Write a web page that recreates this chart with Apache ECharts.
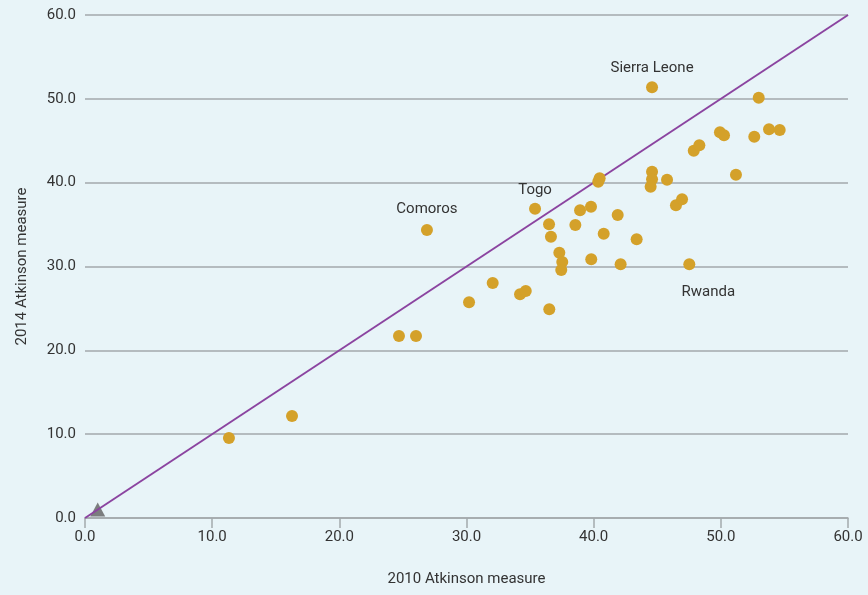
<!DOCTYPE html>
<html>
<head>
<meta charset="utf-8">
<script src="https://cdn.jsdelivr.net/npm/echarts@6/dist/echarts.min.js"></script>
<style>
html,body{margin:0;padding:0;background:#e8f4f8;}
#c{width:868px;height:595px;}
</style>
</head>
<body>
<div id="c"></div>
<script>
const xTicks = [0, 10, 20, 30, 40, 50, 60];
const yTicks = [0, 10, 20, 30, 40, 50, 60];
const x2010 = [11.32, 16.28, 24.69, 26.03, 26.89, 30.2, 32.06, 34.21, 34.66, 36.51, 35.39, 36.49, 36.64, 37.3, 37.53, 37.45, 38.56, 38.93, 39.79, 39.81, 40.36, 40.47, 40.79, 41.89, 42.12, 43.38, 44.59, 44.59, 44.59, 44.48, 45.77, 46.47, 46.95, 47.52, 47.87, 48.31, 49.93, 50.25, 51.19, 52.63, 52.98, 53.79, 54.63];
const y2014 = [9.54, 12.17, 21.71, 21.71, 34.35, 25.73, 28.03, 26.68, 27.08, 24.89, 36.89, 35.03, 33.55, 31.65, 30.54, 29.58, 34.95, 36.7, 37.13, 30.86, 40.12, 40.52, 33.91, 36.14, 30.26, 33.24, 51.38, 41.31, 40.4, 39.52, 40.35, 37.3, 38.02, 30.26, 43.81, 44.46, 46.01, 45.65, 40.95, 45.48, 50.14, 46.37, 46.28];
const pointNames = ["", "", "", "", "Comoros", "", "", "", "", "", "Togo", "", "", "", "", "", "", "", "", "", "", "", "", "", "", "", "Sierra Leone", "", "", "", "", "", "", "Rwanda", "", "", "", "", "", "", "", "", ""];
const refX = [0, 60];
const refY = [0, 60];
const triangleX = [1.0];
const triangleY = [1.0];

const FONT = '"Roboto", sans-serif';
const labelPos = {
  "Comoros": {position: 'top', offset: [0, -2]},
  "Togo": {position: 'top', offset: [0, 0]},
  "Sierra Leone": {position: 'top', offset: [0, -1]},
  "Rwanda": {position: 'bottom', offset: [19, 9]}
};
const pts = x2010.map((x, i) => {
  const item = {value: [x, y2014[i]], name: pointNames[i]};
  if (pointNames[i]) {
    item.label = Object.assign({show: true, formatter: '{b}', color: '#333', fontSize: 15, fontFamily: FONT}, labelPos[pointNames[i]]);
  }
  return item;
});

const chart = echarts.init(document.getElementById('c'));
chart.setOption({
  backgroundColor: '#e8f4f8',
  animation: false,
  grid: {left: 85, right: 20, top: 15, bottom: 77, containLabel: false},
  xAxis: {
    type: 'value', min: xTicks[0], max: xTicks[xTicks.length - 1], interval: 10,
    name: '2010 Atkinson measure', nameLocation: 'middle', nameGap: 54,
    nameTextStyle: {color: '#333', fontSize: 15, fontFamily: FONT},
    axisLine: {show: true, lineStyle: {color: '#a3a9ac', width: 1.5}},
    axisTick: {show: true, length: 10, lineStyle: {color: '#a3a9ac', width: 1.5}},
    axisLabel: {color: '#333', fontSize: 15, fontFamily: FONT, margin: 12, formatter: v => v.toFixed(1)},
    splitLine: {show: false}
  },
  yAxis: {
    type: 'value', min: yTicks[0], max: yTicks[yTicks.length - 1], interval: 10,
    name: '2014 Atkinson measure', nameLocation: 'middle', nameGap: 55, nameRotate: 90,
    nameTextStyle: {color: '#333', fontSize: 15, fontFamily: FONT},
    axisLine: {show: false},
    axisTick: {show: false},
    axisLabel: {color: '#333', fontSize: 15, fontFamily: FONT, margin: 9, formatter: v => v.toFixed(1)},
    splitLine: {show: true, lineStyle: {color: '#a3a9ac', width: 1.5}}
  },
  series: [
    {
      type: 'scatter', data: triangleX.map((x, i) => [x, triangleY[i]]), symbol: 'triangle', symbolSize: [15, 14],
      itemStyle: {color: '#5f5f5f'}, z: 2
    },
    {
      type: 'line', data: refX.map((x, i) => [x, refY[i]]), showSymbol: false, symbol: 'none',
      lineStyle: {color: '#8b44a0', width: 2}, z: 3, silent: true
    },
    {
      type: 'scatter', data: pts, symbol: 'circle', symbolSize: 12,
      itemStyle: {color: '#d4a12a', opacity: 1}, z: 4
    }
  ]
});
</script>
</body>
</html>
